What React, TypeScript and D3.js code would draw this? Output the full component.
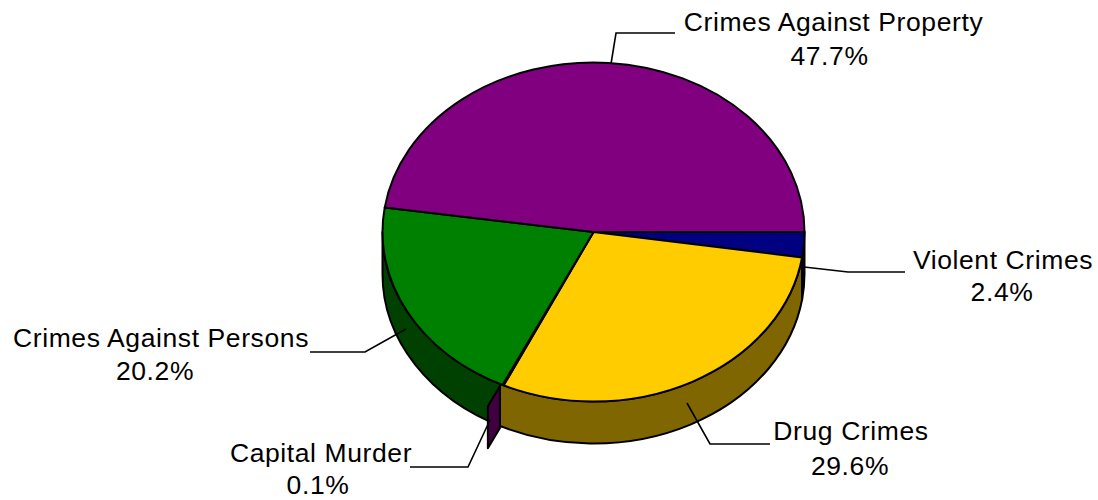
import React from "react";
import * as d3 from "d3";

const categories = ["Violent Crimes", "Drug Crimes", "Capital Murder", "Crimes Against Persons", "Crimes Against Property"];
const shares = [2.4, 29.6, 0.1, 20.2, 47.7];
const topColors = ["#000080", "#FFCC00", "#800080", "#008000", "#800080"];
const sideColors = ["#000060", "#806600", "#400040", "#004000", "#600060"];

const labelAnchors = [
  { x: 1003, y1: 269, x2: 1002, y2: 301 },
  { x: 851, y1: 440, x2: 850, y2: 475 },
  { x: 321, y1: 462, x2: 318, y2: 494 },
  { x: 161, y1: 347, x2: 155, y2: 380 },
  { x: 833.5, y1: 31, x2: 829.5, y2: 65 },
];
const leaders: [number, number][][] = [
  [[804, 267], [848, 272], [905, 272]],
  [[687, 403], [710, 444], [770, 444]],
  [[490, 420], [468, 467], [410, 467]],
  [[406, 329], [365, 352], [310, 352]],
  [[611, 64], [616, 33], [675, 33]],
];

const cx = 593.5, cy = 232, rx = 211, ry = 169.5, depth = 42;
const wallReach = 0.133, wallNudge = -2.5;

const pt = (a: number, dy = 0): [number, number] => [cx + rx * Math.cos(a), cy + ry * Math.sin(a) + dy];
const fmt = (p: [number, number]) => `${p[0]},${p[1]}`;

const topPath = (a0: number, a1: number) =>
  `M${cx},${cy}L${fmt(pt(a0))}A${rx},${ry} 0 ${a1 - a0 > Math.PI ? 1 : 0} 1 ${fmt(pt(a1))}Z`;

const sidePath = (a0: number, a1: number) => {
  const s = Math.max(a0, 0), e = Math.min(a1, Math.PI);
  if (e <= s) return "";
  return `M${fmt(pt(s))}A${rx},${ry} 0 0 1 ${fmt(pt(e))}L${fmt(pt(e, depth))}A${rx},${ry} 0 0 0 ${fmt(pt(s, depth))}Z`;
};

const wallPath = (a: number) => {
  const p = pt(a);
  const o: [number, number] = [p[0] + wallNudge, p[1] + 1];
  const tip: [number, number] = [o[0] + (p[0] - cx) * wallReach, o[1] + (p[1] - cy) * wallReach];
  return `M${fmt(o)}L${fmt(tip)}L${tip[0]},${tip[1] + depth}L${o[0]},${o[1] + depth}Z`;
};

export default function App() {
  const arcs = d3.pie<number>().sort(null).startAngle(0).endAngle(2 * Math.PI)(shares);
  const line = d3.line();
  const font = { fontFamily: "'Liberation Sans', Arial, sans-serif", fontSize: 26.5, letterSpacing: 0.6 };
  const capital = arcs[2];
  const wallAngle = Math.acos((pt(capital.endAngle)[0] + wallNudge - cx) / rx);
  const sideOrder = [4, 3, 1, 0];
  return (
    <svg width={1098} height={500} style={{ position: "absolute", left: 0, top: 0, background: "#fff" }}>
      <g stroke="#000" strokeWidth={2} strokeLinejoin="round">
        {sideOrder.map((i) => (
          <path
            key={i}
            d={sidePath(arcs[i].startAngle, i === 1 ? wallAngle : arcs[i].endAngle)}
            fill={sideColors[i]}
          />
        ))}
        {arcs.map((a, i) => (
          <path key={i} d={topPath(a.startAngle, a.endAngle)} fill={topColors[i]} />
        ))}
        <path d={wallPath(capital.endAngle)} fill={sideColors[2]} />
      </g>
      <g fill="none" stroke="#000" strokeWidth={1.6}>
        {leaders.map((l, i) => <path key={i} d={line(l) ?? ""} />)}
      </g>
      <g textAnchor="middle" fill="#000" style={font}>
        {categories.map((c, i) => (
          <g key={c}>
            <text x={labelAnchors[i].x} y={labelAnchors[i].y1}>{c}</text>
            <text x={labelAnchors[i].x2} y={labelAnchors[i].y2}>{shares[i].toFixed(1)}%</text>
          </g>
        ))}
      </g>
    </svg>
  );
}
